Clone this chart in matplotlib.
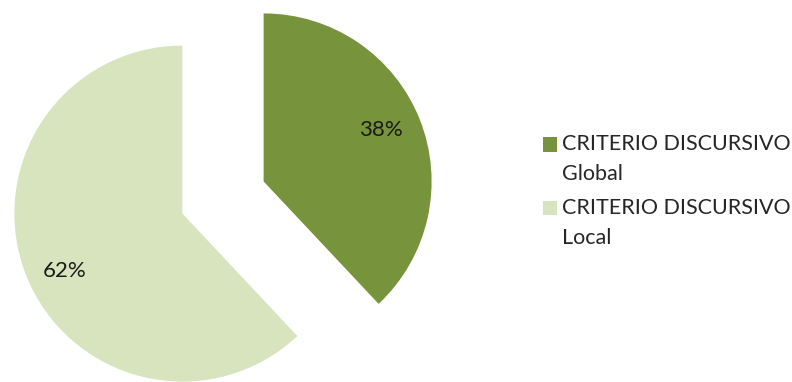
import matplotlib

matplotlib.use("Agg")
import matplotlib.pyplot as plt  # noqa: E402
from matplotlib.legend_handler import HandlerPatch  # noqa: E402
from matplotlib.patches import Rectangle, Wedge  # noqa: E402

labels = ["CRITERIO DISCURSIVO\nGlobal", "CRITERIO DISCURSIVO\nLocal"]
shares = [38, 62]
colors = ["#77933C", "#D7E4BD"]

W, H = 792, 382
R = 168.0  # pie radius, px
cx, cy = 223.0, 197.5  # pie centre, px from the top-left corner

plt.rcParams["font.family"] = ["Lato", "DejaVu Sans"]


def _square_on_first_line(legend, orig_handle, xdescent, ydescent, width, height, fontsize):
    # legend centres the handle on the two-line label; lift it to the first line
    return Rectangle((-xdescent, -ydescent + 0.70 * fontsize), width, height)


fig = plt.figure(figsize=(W / 100, H / 100), dpi=100)
ax = fig.add_axes([0, 0, 1, 1])

wedges, _, pct_texts = ax.pie(
    shares,
    colors=colors,
    startangle=90,
    counterclock=False,
    explode=[0.26, 0.26],
    autopct="%.0f%%",
    pctdistance=0.77,
    wedgeprops={"linewidth": 0},
    textprops={"fontsize": 16, "color": "#1a1a1a"},
)

# one data unit = one pie radius, so the pie lands where we want it in pixels
ax.set_xlim(-cx / R, (W - cx) / R)
ax.set_ylim(-(H - cy) / R, cy / R)
ax.set_aspect("auto")
ax.axis("off")

# small best-fit nudges for the percentage labels (px: right, up)
for t, (dx, dy) in zip(pct_texts, [(-3, 3.5), (3, -10)]):
    x, y = t.get_position()
    t.set_position((x + dx / R, y + dy / R))

leg = ax.legend(
    wedges,
    labels,
    loc="upper left",
    bbox_to_anchor=(543 / W, 1 - 134 / H),
    bbox_transform=fig.transFigure,
    frameon=False,
    fontsize=15.5,
    labelcolor="#262626",
    handlelength=0.65,
    handleheight=0.65,
    handletextpad=0.25,
    labelspacing=0.65,
    borderpad=0,
    borderaxespad=0,
    handler_map={Wedge: HandlerPatch(patch_func=_square_on_first_line)},
)
for t in leg.get_texts():
    t.set_linespacing(1.62)

fig.savefig("out.png", dpi=100, facecolor="white")
plt.close(fig)
